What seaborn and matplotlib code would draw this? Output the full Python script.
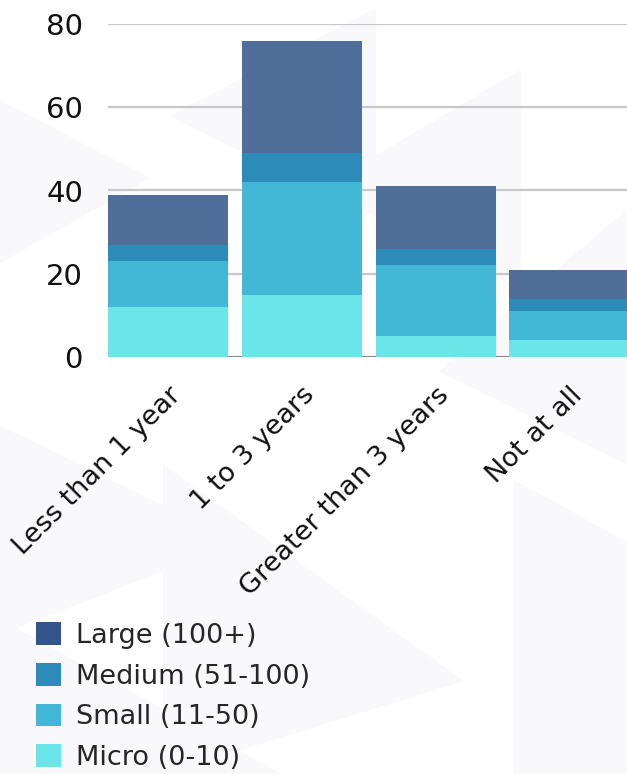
import matplotlib
matplotlib.use("Agg")
import matplotlib.pyplot as plt
from matplotlib.patches import Patch, Polygon
import numpy as np
import pandas as pd
import seaborn as sns

# Survey data: how long companies have been doing it, split by company size
categories = ["Less than 1 year", "1 to 3 years", "Greater than 3 years", "Not at all"]
micro = [12, 15, 5, 4]
small = [11, 27, 17, 7]
medium = [4, 7, 4, 3]
large = [12, 27, 15, 7]

series_names = ["Large (100+)", "Medium (51-100)", "Small (11-50)", "Micro (0-10)"]
bar_colors = ["#4f6e9a", "#2d8bba", "#42b7d6", "#6ae5e8"]
legend_colors = ["#33558c", "#2d8bba", "#42b7d6", "#6ae5e8"]

sns.set_theme(style="white")
plt.rcParams["font.family"] = ["DejaVu Sans"]

df = pd.DataFrame({
    "category": categories,
    "Micro (0-10)": micro,
    "Small (11-50)": small,
    "Medium (51-100)": medium,
    "Large (100+)": large,
})
# cumulative heights, drawn from the tallest layer down
df["c_micro"] = df["Micro (0-10)"]
df["c_small"] = df["c_micro"] + df["Small (11-50)"]
df["c_medium"] = df["c_small"] + df["Medium (51-100)"]
df["c_large"] = df["c_medium"] + df["Large (100+)"]

fig = plt.figure(figsize=(6.27, 7.74), dpi=100)
fig.patch.set_facecolor("white")

# very faint decorative background shapes
bg = "#f9f9fb"
for pts in [
    [(0.0, 0.87), (0.24, 0.77), (0.0, 0.66)],
    [(0.27, 0.85), (0.60, 0.99), (0.60, 0.72)],
    [(0.56, 0.78), (0.83, 0.91), (0.83, 0.62)],
    [(1.0, 0.73), (0.70, 0.52), (1.0, 0.40)],
    [(0.0, 0.45), (0.38, 0.30), (0.0, 0.18)],
    [(0.26, 0.40), (0.74, 0.12), (0.26, 0.0)],
    [(0.82, 0.38), (1.0, 0.30), (1.0, 0.0), (0.82, 0.0)],
    [(0.0, 0.20), (0.45, 0.0), (0.0, 0.0)],
]:
    fig.add_artist(Polygon(pts, closed=True, transform=fig.transFigure,
                           facecolor=bg, edgecolor="none", zorder=0))

ax = fig.add_axes([108 / 627, 1 - 357 / 774, 1 - 108 / 627, (357 - 24) / 774])
ax.patch.set_alpha(0)

layers = [("c_large", 0), ("c_medium", 1), ("c_small", 2), ("c_micro", 3)]
for col, i in layers:
    sns.barplot(data=df, x="category", y=col, color=bar_colors[i], width=0.9,
                saturation=1, ax=ax, zorder=3, linewidth=0, order=categories)

ax.set_ylim(0, 80)
ax.set_xlim(-0.45, 3.43)
ax.set_yticks([0, 20, 40, 60, 80])
ax.yaxis.grid(True, color="#c8c8c8", linewidth=1.6, zorder=1)
ax.set_axisbelow(True)
ax.axhline(0, color="#7a7a7a", linewidth=1.2, zorder=2)
for s in ax.spines.values():
    s.set_visible(False)
ax.set_xlabel("")
ax.set_ylabel("")
ax.tick_params(axis="y", length=0, pad=18, labelsize=21, labelcolor="#111111")
ax.tick_params(axis="x", length=0, pad=18, labelsize=19.5, labelcolor="#111111")
ax.set_xticks(range(len(categories)))
ax.set_xticklabels(categories, rotation=45, ha="right", rotation_mode="anchor")

handles = [Patch(facecolor=c, edgecolor="none", label=n)
           for n, c in zip(series_names, legend_colors)]
fig.legend(handles=handles, loc="upper left", bbox_to_anchor=(36 / 627, 1 - 622 / 774),
           frameon=False, fontsize=19.5, handlelength=0.92, handleheight=0.92,
           handletextpad=0.55, labelspacing=0.52, borderaxespad=0, borderpad=0)

fig.savefig("out.png", dpi=100, facecolor="white")
